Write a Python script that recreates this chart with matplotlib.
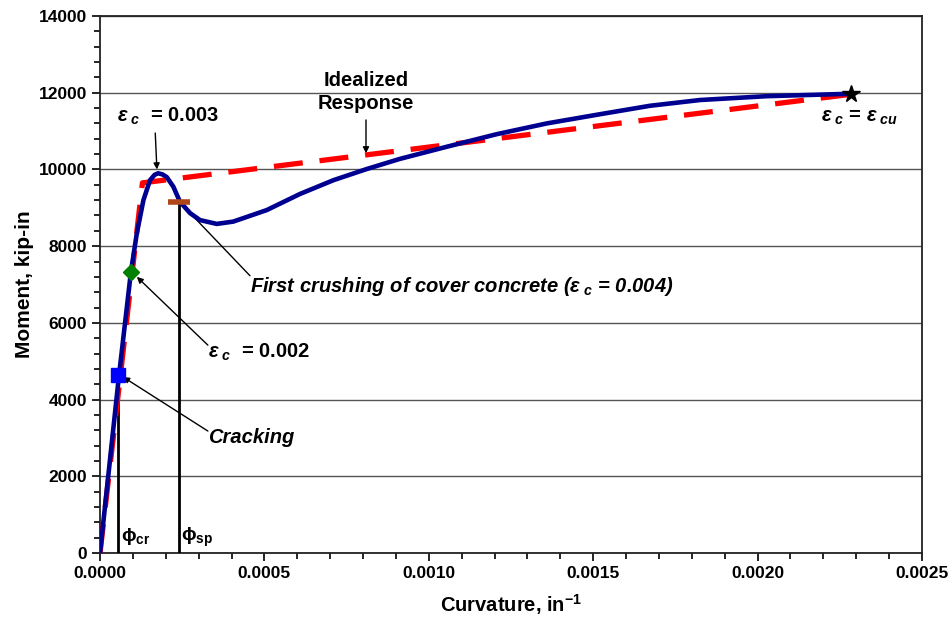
import matplotlib
matplotlib.use("Agg")
import matplotlib.pyplot as plt
from matplotlib.ticker import MultipleLocator, FormatStrFormatter

plt.rcParams["font.family"] = ["Liberation Sans", "DejaVu Sans"]
plt.rcParams["font.weight"] = "bold"
plt.rcParams["mathtext.fontset"] = "custom"
plt.rcParams["mathtext.rm"] = "Liberation Sans:bold"
plt.rcParams["mathtext.it"] = "Liberation Sans:italic:bold"
plt.rcParams["mathtext.bf"] = "Liberation Sans:bold"

# moment-curvature response of the section
curvature = [0, 0.000058, 0.000094, 0.000112, 0.000132, 0.000152, 0.000166,
             0.000177, 0.000190, 0.000203, 0.000223, 0.000243, 0.000274,
             0.000304, 0.000355, 0.000405, 0.000507, 0.000608, 0.000710,
             0.000811, 0.000912, 0.001054, 0.001207, 0.001359, 0.001521,
             0.001673, 0.001825, 0.002028, 0.002250, 0.002285]
moment = [0, 4650, 7330, 8340, 9200, 9720, 9860,
          9900, 9870, 9800, 9550, 9160, 8860,
          8680, 8580, 8640, 8940, 9360, 9720,
          10010, 10275, 10590, 10920, 11200, 11440,
          11660, 11810, 11910, 11965, 11970]

# bilinear idealization
ideal_curv = [0, 0.000129, 0.002285]
ideal_mom = [0, 9650, 11960]

# key points
phi_cr, m_cr = 0.000056, 4650          # cracking
phi_y, m_y = 0.000094, 7330            # eps_c = 0.002
phi_pk, m_pk = 0.000177, 9900          # eps_c = 0.003
phi_sp, m_sp = 0.000240, 9160          # first crushing of cover
phi_u, m_u = 0.002285, 11970           # eps_c = eps_cu

fig = plt.figure(figsize=(9.49, 6.28), dpi=100)
ax = fig.add_axes([0.1054, 0.1194, 0.8661, 0.8551])

ax.set_xlim(0, 0.0025)
ax.set_ylim(0, 14000)
ax.yaxis.set_major_locator(MultipleLocator(2000))
ax.yaxis.set_minor_locator(MultipleLocator(400))
ax.xaxis.set_major_locator(MultipleLocator(0.0005))
ax.xaxis.set_minor_locator(MultipleLocator(0.0001))
ax.xaxis.set_major_formatter(FormatStrFormatter("%.4f"))
ax.grid(axis="y", which="major", color="#555555", linewidth=1.0)
ax.set_axisbelow(True)
ax.tick_params(which="both", direction="out", labelsize=12.5, width=1.2)
ax.tick_params(which="major", length=6)
ax.tick_params(which="minor", length=4)
for lab in ax.get_xticklabels() + ax.get_yticklabels():
    lab.set_fontweight("bold")
for s in ax.spines.values():
    s.set_linewidth(1.3)
    s.set_color("#222222")

ax.set_xlabel("Curvature, in$^{-1}$", fontsize=14.5, fontweight="bold",
              labelpad=8)
ax.set_ylabel("Moment, kip-in", fontsize=15, fontweight="bold", labelpad=3)

# vertical markers for cracking and spalling curvature
ax.plot([phi_cr, phi_cr], [0, m_cr], color="black", linewidth=2, zorder=3)
ax.plot([phi_sp, phi_sp], [0, m_sp], color="black", linewidth=2, zorder=3)

ax.plot(ideal_curv, ideal_mom, color="#FF0000", linewidth=3.8,
        dashes=(5.5, 3.2), zorder=4)
ax.plot(curvature, moment, color="#000090", linewidth=3.3, zorder=5,
        solid_joinstyle="round")

ax.plot(phi_cr, m_cr, marker="s", markersize=10, color="#0000FF", zorder=6)
ax.plot(phi_y, m_y, marker="D", markersize=8.5, color="#008000", zorder=6)
ax.plot(phi_sp, m_sp, marker="_", markersize=16, markeredgewidth=4,
        color="#B0471A", zorder=6)
ax.plot(phi_u, m_u, marker="*", markersize=13, color="black", zorder=6)

arrow = dict(arrowstyle="-|>", color="black", linewidth=1.0,
             mutation_scale=9, shrinkA=0, shrinkB=0)
line = dict(arrowstyle="-", color="black", linewidth=1.0,
            shrinkA=0, shrinkB=0)

ax.text(0.000207, 11393, r"$\varepsilon_{\ c}$  = 0.003", fontsize=14.5,
        fontweight="bold", ha="center", va="center")
ax.annotate("", xy=(0.000173, 10000), xytext=(0.000168, 10950),
            arrowprops=arrow)

ax.text(0.000809, 12020, "Idealized\nResponse", fontsize=14.5,
        fontweight="bold", ha="center", va="center", linespacing=1.25)
ax.annotate("", xy=(0.000809, 10420), xytext=(0.000809, 11290),
            arrowprops=arrow)

ax.text(0.002311, 11367, r"$\varepsilon_{\ c}$ = $\varepsilon_{\ cu}$",
        fontsize=14.5, fontweight="bold", ha="center", va="center")

ax.text(0.000456, 6960,
        r"First crushing of cover concrete ($\varepsilon_{\ c}$ = 0.004)",
        fontsize=14.5, fontweight="bold", fontstyle="italic",
        ha="left", va="center")
ax.annotate("", xy=(0.000272, 8880), xytext=(0.000456, 7230),
            arrowprops=line)

ax.text(0.000328, 5240, r"$\varepsilon_{\ c}$  = 0.002", fontsize=14.5,
        fontweight="bold", ha="left", va="center")
ax.annotate("", xy=(0.000112, 7200), xytext=(0.000328, 5420),
            arrowprops=arrow)

ax.text(0.000328, 3000, "Cracking", fontsize=14.5, fontweight="bold",
        fontstyle="italic", ha="left", va="center")
ax.annotate("", xy=(0.00007, 4590), xytext=(0.000328, 3180),
            arrowprops=arrow)

ax.text(0.000064, 420, r"$\mathrm{\phi}_{\mathrm{cr}}$", fontsize=14,
        ha="left", va="center")
ax.text(0.000246, 420, r"$\mathrm{\phi}_{\mathrm{sp}}$", fontsize=14,
        ha="left", va="center")

fig.savefig("out.png", dpi=100)
